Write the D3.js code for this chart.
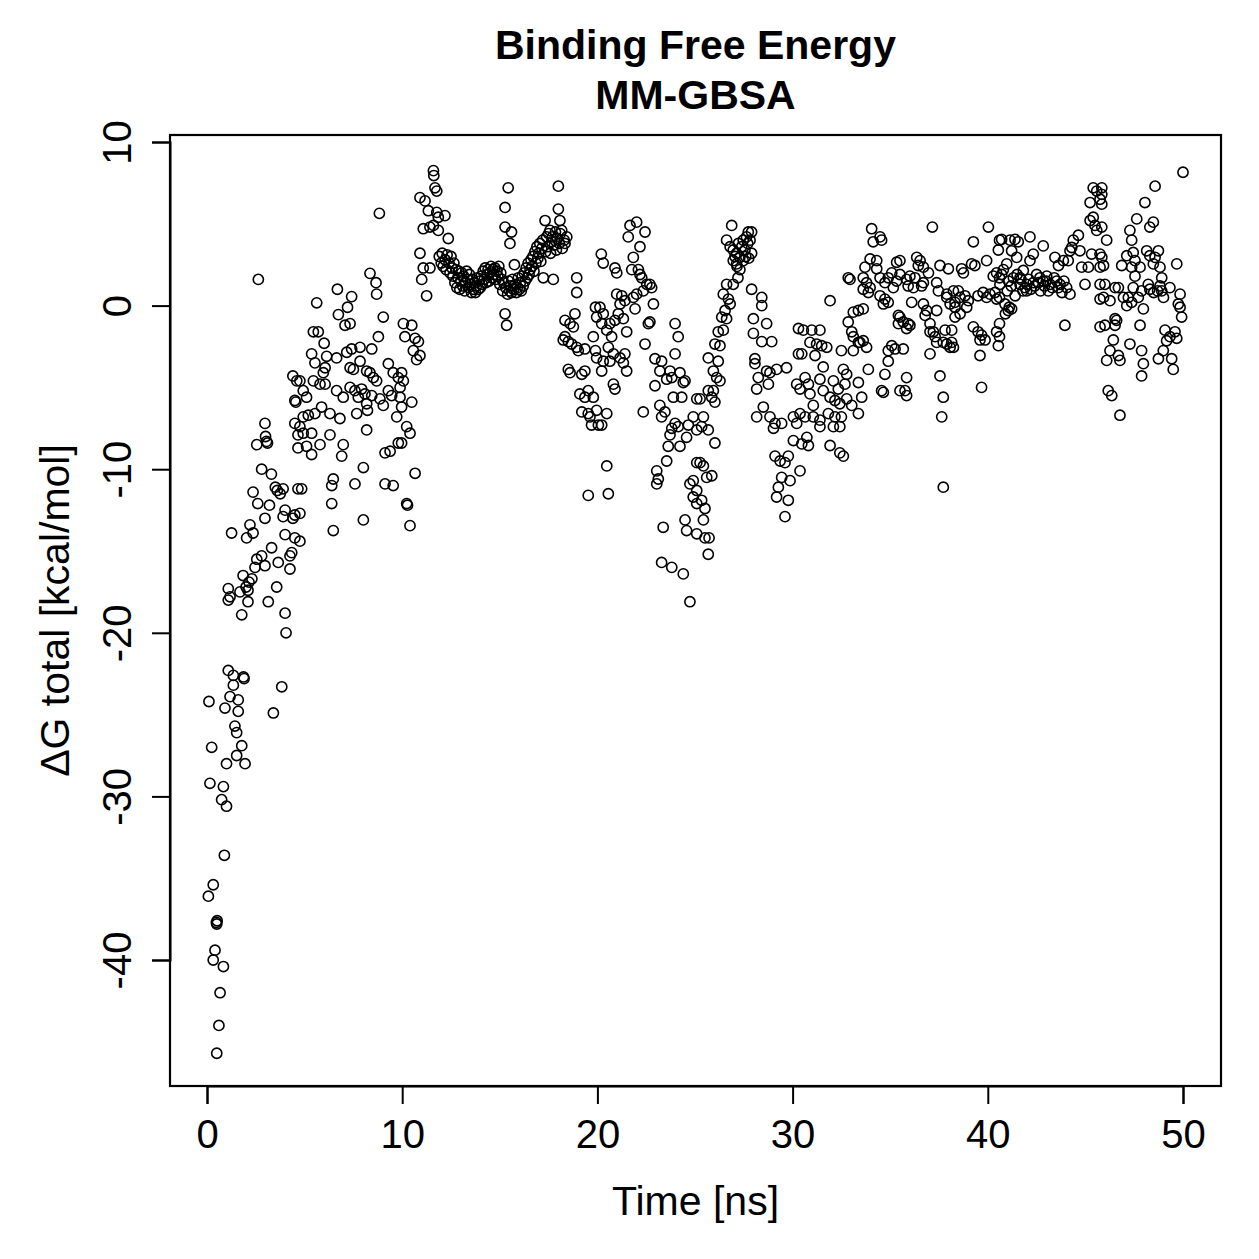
<!DOCTYPE html>
<html>
<head>
<meta charset="utf-8">
<script src="https://cdn.jsdelivr.net/npm/d3@7"></script>
<style>
  body { margin: 0; background: #fff; }
  text { font-family: "Liberation Sans", Arial, sans-serif; fill: #000; }
</style>
</head>
<body>
<div id="vis"></div>
<script>
const FRAME_WIDTH = 1259;
const FRAME_HEIGHT = 1259;
const BOX = {left: 170, right: 1221, top: 135, bottom: 1086};

const TITLE_LINES = ["Binding Free Energy", "MM-GBSA"];
const X_LABEL = "Time [ns]";
const Y_LABEL = "\u0394G total [kcal/mol]";
const X_TICKS = [0, 10, 20, 30, 40, 50];
const Y_TICKS = [10, 0, -10, -20, -30, -40];

// [time ns, dG kcal/mol], window by window
const start0to5 = [
  [0.07,-36.1],[0.1,-24.2],[0.15,-29.2],[0.24,-27.0],[0.32,-35.4],[0.32,-40.0],[0.41,-39.4],
  [0.48,-37.7],[0.5,-37.8],[0.52,-37.6],[0.5,-45.7],[0.61,-44.0],[0.67,-42.0],[0.75,-30.2],
  [0.84,-40.4],[0.84,-29.4],[0.89,-33.6],[0.92,-24.6],[1.0,-28.0],[1.0,-30.6],[1.09,-22.3],
  [1.09,-17.3],[1.09,-18.0],[1.18,-17.8],[1.18,-23.9],[1.26,-13.9],[1.35,-22.6],[1.35,-23.2],
  [1.43,-25.7],[1.52,-26.1],[1.52,-27.5],[1.6,-24.1],[1.6,-24.8],[1.69,-17.5],[1.78,-26.9],
  [1.78,-18.9],[1.87,-22.7],[1.9,-22.8],[1.95,-28.0],[2.03,-14.2],[2.1,-18.1],[2.2,-13.4],
  [1.85,-16.5],[2.0,-17.2],[2.15,-16.9],[2.3,-16.7],[2.1,-17.4],[2.36,-11.4],[2.36,-13.9],
  [2.46,-16.0],[2.55,-15.5],[2.55,-8.5],[2.63,1.6],[2.8,-15.3],[2.8,-10.0],[2.97,-7.2],
  [2.97,-13.0],[2.97,-15.9],[3.0,-8.0],[3.05,-8.3],[3.1,-8.4],[3.14,-18.1],[3.2,-12.2],
  [2.6,-12.1],[3.3,-10.3],[3.31,-14.8],[3.4,-24.9],[3.5,-11.1],[3.57,-17.2],[3.65,-15.7],
  [3.6,-11.3],[3.75,-11.5],[3.83,-23.3],[3.9,-12.9],[3.9,-11.2],[4.0,-14.0],[4.0,-12.5],
  [4.0,-18.8],[4.05,-20.0],[4.25,-15.3],[4.25,-16.1],[4.34,-15.1],[4.4,-4.3],[4.4,-13.0],
  [4.5,-5.8],[4.55,-5.9],[4.5,-7.2],[4.5,-14.2],[4.5,-12.8],[4.6,-4.6],[4.66,-7.9],[4.66,-8.7],
  [4.66,-11.2],[4.76,-4.6],[4.76,-7.4],[4.76,-14.4],[4.76,-12.7],[4.85,-11.2],[4.93,-5.2],
  [4.93,-6.8],[4.93,-7.8]
];

const rise5to11 = [
  [5.1,-5.6],[5.1,-8.6],[5.19,-6.7],[5.36,-7.8],[5.36,-9.1],[5.36,-2.95],[5.45,-1.6],[5.45,-4.6],
  [5.53,-3.5],[5.53,-6.6],[5.62,0.17],[5.7,-1.6],[5.79,-4.8],[5.79,-8.5],[5.87,-6.2],[5.96,-4.1],
  [6.0,-2.3],[6.05,-3.8],[6.05,-4.8],[6.13,-3.1],[6.3,-6.6],[6.3,-7.9],[6.39,-11.0],[6.39,-12.1],
  [6.47,-10.6],[6.47,-13.75],[6.64,-3.2],[6.64,-5.2],[6.68,1.0],[6.73,-0.55],[6.81,-6.9],
  [6.9,-9.2],[6.98,-5.6],[6.98,-8.5],[7.07,-1.2],[7.16,-2.85],[7.2,-0.1],[7.33,-1.1],[7.33,-3.8],
  [7.33,-5.0],[7.41,0.55],[7.41,-2.65],[7.5,-3.9],[7.58,-5.2],[7.58,-10.9],[7.67,-6.6],
  [7.75,-5.6],[7.84,-2.55],[7.84,-3.4],[7.92,-5.1],[8.01,-9.9],[8.01,-13.1],[8.09,-5.4],
  [8.18,-4.0],[8.18,-6.0],[8.22,-6.4],[8.18,-7.6],[8.35,1.97],[8.35,-4.1],[8.44,-2.65],
  [8.44,-5.5],[8.52,-4.4],[8.66,1.4],[8.69,0.7],[8.69,-4.6],[8.78,-1.9],[8.83,5.64],[8.86,-5.7],
  [9.03,-0.7],[9.03,-6.1],[9.12,-9.0],[9.12,-10.9],[9.29,-3.55],[9.29,-5.2],[9.38,-8.9],
  [9.46,-5.5],[9.54,-4.1],[9.54,-11.0],[9.72,-6.8],[9.8,-4.4],[9.8,-8.4],[9.89,-5.0],[9.89,-5.6],
  [9.97,-4.1],[9.97,-6.2],[9.97,-8.4],[10.06,-1.1],[10.06,-4.6],[10.14,-1.9],[10.23,-7.4],
  [10.23,-12.1],[10.27,-12.2],[10.4,-7.8],[10.4,-13.45],[10.49,-1.2],[10.49,-5.9],[10.57,-2.75],
  [10.66,-2.0],[10.66,-10.25],[10.74,-3.3],[10.83,-2.2],[10.91,-3.05]
];

const plateau11to18 = [
  [10.91,3.2],[10.91,6.6],[11.0,1.6],[11.08,2.3],[11.08,4.7],[11.17,6.4],[11.25,0.6],[11.34,5.8],
  [11.42,2.3],[11.42,4.8],[11.6,4.9],[11.6,8.25],[11.62,7.95],[11.68,7.2],[11.77,7.0],[11.77,5.7],
  [11.85,5.4],[11.85,4.6],[12.19,5.5],[12.36,4.1],[11.9,3.0],[12.0,2.6],[12.05,3.2],[12.1,2.4],
  [12.2,2.8],[12.25,2.2],[12.3,3.1],[12.4,2.6],[12.45,2.0],[12.5,3.0],[12.55,2.3],
  [12.6,1.8],[12.65,2.6],[12.7,1.4],[12.75,2.2],[12.8,1.1],[12.85,1.7],[12.9,2.1],[12.95,1.0],
  [13.0,1.5],[13.05,2.0],[13.1,1.2],[13.15,1.8],[13.2,0.9],[13.25,1.4],[13.3,2.1],[13.35,1.6],
  [13.4,1.1],[13.45,1.9],[13.5,1.3],[13.55,0.8],[13.6,1.6],[13.65,1.0],[13.7,1.4],[13.75,0.8],
  [13.8,1.2],[13.85,1.7],[13.9,1.0],[13.95,1.5],[14.0,1.1],[14.05,1.8],[14.1,1.3],[14.15,2.1],
  [14.2,1.6],[14.25,2.3],[14.3,1.4],[14.35,1.9],[14.4,2.2],[14.45,1.5],[14.5,2.0],[14.55,2.4],
  [14.6,1.7],[14.65,2.2],[14.7,1.9],[14.75,2.3],[14.8,1.6],[14.85,2.1],[14.9,1.8],[14.95,2.4],
  [15.0,1.3],[15.05,2.0],[15.1,1.6],[15.15,0.9],[15.2,1.4],[15.27,6.0],[15.27,4.8],[15.27,-0.5],
  [15.35,-1.2],[15.43,7.2],[15.52,3.8],[15.6,4.5],[15.3,1.1],[15.4,0.7],[15.45,1.5],[15.5,0.9],
  [15.55,1.2],[15.6,0.8],[15.65,1.6],[15.7,1.0],[15.75,2.5],[15.8,1.3],[15.85,0.8],[15.9,1.1],
  [15.95,1.7],[16.0,1.0],[16.05,1.4],[16.1,0.9],[16.15,1.8],[16.2,1.2],[16.25,2.0],[16.3,1.5],
  [16.35,2.3],[16.4,1.7],[16.45,2.6],[16.5,1.9],[16.55,2.2],[16.6,2.8],[16.65,2.4],[16.7,3.0],
  [16.75,2.1],[16.8,3.3],[16.85,2.6],[16.9,3.6],[16.95,2.9],[17.0,3.2],[17.05,3.8],[17.1,2.7],
  [17.15,3.5],[17.2,4.0],[17.23,1.7],[17.32,5.2],[17.35,3.3],[17.4,4.2],[17.45,3.6],[17.5,4.4],
  [17.57,4.6],[17.6,3.2],[17.65,3.9],[17.7,4.2],[17.74,1.6],[17.8,3.7],[17.85,4.5],[17.9,3.4],
  [17.95,4.1],[18.0,7.3],[18.0,5.9],[18.05,3.8],[18.08,5.2],[18.1,4.4],[18.17,4.6],[18.2,3.5],
  [18.3,4.0],[18.34,3.8],[18.43,4.2]
];

const dip18to30 = [
  [18.25,-2.1],[18.34,-0.9],[18.34,-1.9],[18.51,-2.2],[18.51,-3.9],[18.6,-1.1],[18.6,-4.1],
  [18.68,-2.35],[18.77,-1.3],[18.85,-0.5],[18.94,1.7],[18.94,0.8],[18.94,-2.55],[19.02,-2.75],
  [19.1,-5.4],[19.2,-4.2],[19.2,-6.5],[19.36,-2.65],[19.36,-4.0],[19.36,-5.6],[19.53,-5.2],
  [19.53,-6.6],[19.53,-11.6],[19.62,-6.8],[19.7,-7.3],[19.79,-5.6],[19.79,-1.9],[19.9,-0.1],
  [19.9,-2.75],[19.96,-0.7],[19.96,-3.2],[19.96,-6.4],[20.05,-7.3],[20.2,3.15],[20.13,-0.1],
  [20.22,-1.1],[20.22,-4.0],[20.22,-7.3],[20.3,2.6],[20.3,-0.5],[20.3,-3.4],[20.48,-1.5],
  [20.48,-6.6],[20.48,-9.8],[20.56,-2.55],[20.56,-11.5],[20.64,-1.1],[20.64,-3.4],[20.73,-1.9],
  [20.82,-2.95],[20.82,-4.8],[20.9,-0.9],[20.9,-5.1],[20.9,2.3],[20.99,2.0],[20.99,0.7],
  [21.07,-0.5],[21.16,0.1],[21.16,-3.2],[21.25,0.6],[21.33,-0.8],[21.33,-3.5],[21.41,0.3],
  [21.41,-2.95],[21.5,-1.6],[21.5,-4.0],[21.58,4.2],[21.67,4.9],[21.76,2.2],[21.84,2.95],
  [21.84,0.5],[21.93,-0.2],[22.01,5.1],[22.01,0.7],[22.1,2.2],[22.18,3.6],[22.18,1.9],[22.27,1.7],
  [22.35,0.9],[22.35,-6.5],[22.44,4.5],[22.44,-2.35],[22.53,1.3],[22.61,-1.1],[22.69,1.3],
  [22.69,-1.0],[22.78,1.1],[22.87,0.1],[22.95,-3.25],[22.95,-4.9],[23.04,-10.1],[23.04,-10.9],
  [23.12,-10.6],[23.2,-4.0],[23.2,-6.1],[23.29,-3.4],[23.29,-6.8],[23.29,-15.7],[23.37,-13.55],
  [23.46,-6.5],[23.55,-4.5],[23.55,-9.5],[23.63,-8.6],[23.72,-4.0],[23.72,-7.9],[23.81,-4.4],
  [23.81,-7.5],[23.81,-16.0],[23.89,-5.6],[23.98,-1.1],[23.98,-2.95],[23.98,-7.2],[24.14,-1.9],
  [24.14,-7.4],[24.23,-4.1],[24.23,-8.6],[24.32,-5.6],[24.4,-4.7],[24.4,-16.4],[24.49,-4.6],
  [24.49,-13.1],[24.57,-8.05],[24.57,-13.75],[24.66,-7.3],[24.74,-10.9],[24.74,-18.1],
  [24.91,-6.8],[24.91,-10.7],[24.91,-11.7],[25.09,-5.7],[25.09,-7.6],[25.09,-9.6],[25.09,-11.3],
  [25.09,-12.1],[25.09,-13.95],
  [25.26,-5.7],[25.26,-9.6],[25.34,-7.4],[25.34,-11.9],[25.43,-6.8],[25.43,-9.8],[25.43,-13.1],
  [25.51,-12.4],[25.51,-14.2],[25.6,-10.5],[25.68,-3.2],[25.68,-5.2],[25.68,-7.6],[25.72,-14.2],
  [25.68,-15.2],[25.86,-5.6],[25.86,-10.4],[25.94,-4.0],[25.94,-5.2],[26.02,-2.35],[26.02,-5.9],
  [26.02,-8.4],[26.11,-4.4],[26.19,-1.6],[26.19,-3.4],[26.28,-2.45],[26.28,-4.6],[26.37,-0.7],
  [26.45,-1.5],[26.45,0.7],[26.54,-0.3],[26.62,-0.8],[26.62,1.3],[26.62,4.0],[26.71,0.4],
  [26.8,0.1],[26.8,3.6],[26.88,4.9],[26.96,1.3],[26.96,3.4],[26.96,2.75],[27.05,3.0],[27.13,3.2],
  [27.13,2.55],[27.15,2.4],[27.2,1.7],[27.22,3.8],[27.3,2.95],[27.3,2.2],[27.39,3.6],[27.47,2.75],
  [27.47,4.0],[27.56,3.4],[27.6,3.0],[27.64,4.2],[27.7,3.8],[27.73,4.5],[27.75,2.9],[27.82,4.0],
  [27.9,4.5],[27.9,3.2],[27.9,1.0],[27.99,-0.8],[27.99,-1.7],[28.07,-3.25],[28.07,-3.55],
  [28.16,-5.1],[28.16,-6.8],[28.24,-4.4],[28.42,0.5],[28.42,0.0],[28.42,-2.2],[28.5,-6.2],
  [28.67,-1.1],[28.67,-4.0],[28.76,-4.8],[28.84,-4.1],[28.84,-6.8],[28.93,-2.2],[29.02,-7.5],
  [29.1,-7.2],[29.1,-9.2],[29.18,-3.9],[29.18,-11.7],[29.27,-11.1],[29.36,-9.5],[29.44,-7.2],
  [29.44,-10.5],[29.61,-9.6],[29.61,-12.9],[29.69,-3.8],[29.78,-9.2],[29.78,-11.9],[29.87,-10.7],
  [30.04,-6.8],[30.04,-8.25],[30.21,-7.2],[30.21,-4.8],[30.3,-1.4],[30.3,-2.95]
];

const recover30to40 = [
  [30.38,-10.1],[30.38,-5.1],[30.38,-6.6],[30.47,-2.95],[30.47,-8.45],[30.55,-1.5],[30.64,-4.4],
  [30.64,-6.8],[30.73,-8.05],[30.81,-4.8],[30.81,-8.55],[30.89,-2.25],[30.89,-5.4],[30.98,-1.5],
  [31.06,-6.1],[31.06,-6.8],[31.15,-3.05],[31.23,-2.35],[31.4,-1.5],[31.4,-4.5],[31.4,-7.0],
  [31.4,-7.4],[31.49,-2.45],[31.57,-3.75],[31.57,-5.2],[31.75,-2.55],[31.83,-6.6],[31.92,0.3],
  [31.92,-5.6],[31.92,-8.55],[32.09,-4.6],[32.09,-7.4],[32.17,-5.8],[32.17,-6.8],[32.34,-5.1],
  [32.42,-6.0],[32.42,-7.4],[32.42,-9.0],[32.5,-2.75],[32.5,-6.8],[32.6,-3.9],[32.6,-9.2],
  [32.68,-4.8],[32.77,-4.2],[32.77,-5.7],[32.85,1.7],[32.85,-1.0],[32.94,1.6],[33.03,-1.6],
  [33.03,-6.1],[33.11,-0.4],[33.11,-1.9],[33.11,-2.75],[33.37,-0.3],[33.37,-2.25],[33.37,-4.7],
  [33.37,-6.6],[33.45,-2.25],[33.54,-5.6],[33.62,1.7],[33.62,1.0],[33.62,-0.2],[33.62,-2.15],
  [33.71,2.35],[33.79,1.4],[33.79,-2.55],[33.88,0.8],[33.88,-3.9],[33.97,2.85],[33.97,1.1],
  [34.05,4.7],[34.13,3.9],[34.31,2.75],[34.31,2.25],[34.48,4.2],[34.48,1.7],[34.48,0.6],
  [34.56,4.0],[34.56,-5.2],[34.65,0.1],[34.65,-5.3],[34.73,1.4],[34.73,0.4],[34.73,-4.2],
  [34.9,1.7],[34.9,0.2],[34.9,-2.75],[34.9,-3.4],[35.08,2.0],[35.08,-2.45],[35.16,1.1],
  [35.25,-2.65],[35.33,2.65],[35.33,1.5],[35.42,-0.6],[35.42,-1.1],[35.5,-5.2],[35.5,2.75],
  [35.5,1.9],[35.5,-0.7],[35.67,-1.0],[35.67,-2.65],[35.76,-5.2],[35.84,1.6],[35.84,-1.4],
  [35.84,-4.4],[35.84,-5.5],[35.92,1.2],[35.92,-1.1],[36.01,1.8],[36.01,-1.2],[36.1,0.2],
  [36.19,1.1],[36.27,1.7],[36.36,2.95],[36.44,2.45],[36.53,2.75],[36.61,1.2],[36.7,2.35],
  [36.7,1.4],[36.7,0.1],[36.79,-0.6],[36.87,-0.3],[36.96,2.0],[37.04,-1.1],[37.04,-1.6],
  [37.04,-2.95],[37.16,4.8],[37.21,-1.6],[37.3,-1.9],[37.38,1.4],[37.38,-0.3],[37.38,-2.25],
  [37.47,0.9],[37.55,2.45],[37.55,-4.3],[37.64,-6.8],[37.72,-2.25],[37.72,-5.6],[37.72,-11.1],
  [37.81,-1.5],[37.9,0.7],[37.9,0.5],[37.9,-2.35],[37.98,2.25],[38.07,0.1],[38.07,-2.55],
  [38.15,-2.25],[38.15,-1.5],[38.24,0.9],[38.24,-2.55],[38.32,-0.1],[38.32,-0.7],[38.32,0.2],
  [38.49,0.9],[38.58,0.5],[38.58,-0.5],[38.66,2.25],[38.75,2.0],[38.83,0.6],[38.92,-0.1],
  [39.0,0.3],[39.17,2.55],[39.26,3.9],[39.26,-1.3],[39.34,2.45],[39.5,0.6],[39.5,-1.6],
  [39.6,-2.1],[39.6,-3.05],[39.68,-1.8],[39.68,-5.0],[39.76,0.8],[39.86,-2.1],[39.94,2.75],
  [39.94,0.5],[40.03,4.8],[40.11,0.7],[40.28,1.8],[40.37,0.8],[40.45,2.0],[40.45,0.4],
  [40.45,-1.6],[40.54,3.4],[40.54,-2.45],[40.6,4.0],[40.6,1.7]
];

const late40to50 = [
  [40.62,1.3],[40.6,0.5],[40.6,-1.1],[40.6,-1.9],[40.71,4.05],[40.71,1.9],[40.8,2.2],[40.88,0.1],
  [40.9,-0.5],[40.97,2.55],[41.0,0.9],[41.05,-0.3],[41.06,1.5],[41.1,-0.1],[41.14,4.0],[41.2,1.2],
  [41.22,3.35],[41.22,-0.2],[41.31,1.7],[41.39,4.05],[41.4,0.6],[41.48,2.95],[41.5,1.9],
  [41.56,3.9],[41.65,1.7],[41.65,1.3],[41.7,1.6],[41.8,0.9],[41.82,2.15],[41.91,1.1],[41.99,0.9],
  [42.0,1.3],[42.1,1.6],[42.16,4.2],[42.16,2.75],[42.2,1.0],[42.33,3.15],[42.33,1.4],[42.4,1.2],
  [42.5,1.9],[42.6,1.4],[42.67,1.7],[42.7,0.9],[42.84,3.65],[42.84,1.5],[42.9,1.2],[43.0,1.5],
  [43.02,1.8],[43.1,0.9],[43.19,1.3],[43.3,1.1],[43.4,1.7],[43.44,2.95],[43.53,1.5],[43.62,1.1],
  [43.62,2.45],[43.7,1.3],[43.8,0.8],[43.87,2.75],[43.9,1.5],[43.95,-1.2],[44.04,1.1],[44.12,2.75],
  [44.21,0.7],[44.21,3.35],[44.3,3.55],[44.38,4.0],[44.64,4.3],[44.72,3.35],[44.81,2.35],
  [44.98,1.3],[45.15,2.35],[45.24,5.2],[45.24,6.3],[45.32,3.15],[45.4,5.4],[45.4,7.2],[45.49,4.9],
  [45.58,4.6],[45.58,7.0],[45.75,6.5],[45.75,3.15],[45.75,2.35],[45.75,1.3],[45.75,0.4],
  [45.75,-1.3],[45.84,7.2],[45.84,6.8],[45.84,6.2],[45.84,4.8],[45.84,2.95],[45.93,2.45],
  [45.93,0.5],[46.0,1.3],[46.0,-1.2],[46.09,4.0],[46.09,-3.35],[46.17,-5.2],[46.26,0.3],
  [46.26,-2.75],[46.35,-5.5],[46.43,-2.1],[46.52,1.1],[46.52,-1.2],[46.52,-0.8],[46.6,-0.9],
  [46.69,-3.05],[46.69,1.1],[46.77,-3.35],[46.77,-6.7],[46.86,2.45],[46.95,0.5],[47.12,3.05],
  [47.12,0.0],[47.2,0.5],[47.28,4.6],[47.28,-2.35],[47.37,4.0],[47.37,2.35],[47.37,0.2],
  [47.45,3.25],[47.45,1.1],[47.54,2.75],[47.54,1.8],[47.63,5.3],[47.71,0.5],[47.8,2.35],
  [47.8,-1.2],[47.88,0.9],[47.88,-2.75],[47.88,-4.3],[47.97,-0.2],[47.97,-3.55],[48.05,6.3],
  [48.14,3.35],[48.22,1.3],[48.3,4.8],[48.3,3.05],[48.3,1.0],[48.48,5.1],[48.48,2.55],[48.5,0.8],
  [48.57,7.3],[48.57,2.95],[48.7,0.9],[48.74,3.35],[48.74,-3.25],[48.82,2.35],[48.82,1.2],
  [48.91,1.7],[48.91,0.9],[48.99,-2.75],[49.0,0.5],[49.08,-1.5],[49.16,-2.15],[49.33,1.1],
  [49.33,-1.9],[49.42,-3.25],[49.5,-3.9],[49.59,-1.6],[49.68,2.55],[49.68,-2.0],[49.76,0.1],
  [49.85,0.7],[49.85,-0.1],[49.93,-0.7],[50.0,8.15]
];

const POINTS = [].concat(start0to5, rise5to11, plateau11to18, dip18to30, recover30to40, late40to50);

const FONT = "'Liberation Sans', Arial, sans-serif";

const SVG = d3.select("#vis")
    .append("svg")
    .attr("width", FRAME_WIDTH)
    .attr("height", FRAME_HEIGHT);

SVG.append("rect")
    .attr("width", FRAME_WIDTH)
    .attr("height", FRAME_HEIGHT)
    .attr("fill", "#fff");

const X_SCALE = d3.scaleLinear().domain([0, 50]).range([207, 1183]);
const Y_SCALE = d3.scaleLinear().domain([-40, 10]).range([960, 142]);

// points
SVG.append("g")
    .selectAll("circle")
    .data(POINTS)
    .enter()
    .append("circle")
        .attr("cx", d => X_SCALE(d[0]))
        .attr("cy", d => Y_SCALE(d[1]))
        .attr("r", 5.1)
        .attr("fill", "none")
        .attr("stroke", "#000")
        .attr("stroke-width", 1.6);

// box
SVG.append("rect")
    .attr("x", BOX.left)
    .attr("y", BOX.top)
    .attr("width", BOX.right - BOX.left)
    .attr("height", BOX.bottom - BOX.top)
    .attr("fill", "none")
    .attr("stroke", "#000")
    .attr("stroke-width", 2.2);

// plain hyphen minus like R
const plain = d => String(d);

// x axis
const xAxis = SVG.append("g")
    .attr("transform", "translate(0," + BOX.bottom + ")")
    .call(d3.axisBottom(X_SCALE).tickValues(X_TICKS).tickFormat(plain)
        .tickSizeOuter(0).tickSize(18).tickPadding(16));
xAxis.select(".domain").attr("stroke-width", 2);
xAxis.selectAll(".tick line").attr("stroke-width", 2);
xAxis.selectAll("text")
    .attr("font-size", 40)
    .attr("font-family", FONT);

// y axis, labels parallel to the axis like R
const yAxis = SVG.append("g")
    .attr("transform", "translate(" + BOX.left + ",0)")
    .call(d3.axisLeft(Y_SCALE).tickValues(Y_TICKS).tickFormat(plain)
        .tickSizeOuter(0).tickSize(18));
yAxis.select(".domain").attr("stroke-width", 2);
yAxis.selectAll(".tick line").attr("stroke-width", 2);
yAxis.selectAll("text")
    .attr("x", null)
    .attr("dy", null)
    .attr("text-anchor", "middle")
    .attr("transform", "translate(-39,0) rotate(-90)")
    .attr("font-size", 40)
    .attr("font-family", FONT);

// titles
SVG.selectAll(".title")
    .data(TITLE_LINES)
    .enter()
    .append("text")
        .attr("class", "title")
        .attr("x", (BOX.left + BOX.right) / 2)
        .attr("y", (d, i) => 59 + i * 50)
        .attr("text-anchor", "middle")
        .attr("font-size", 41)
        .attr("font-weight", "bold")
        .text(d => d);

SVG.append("text")
    .attr("x", (BOX.left + BOX.right) / 2)
    .attr("y", 1215)
    .attr("text-anchor", "middle")
    .attr("font-size", 41)
    .text(X_LABEL);

SVG.append("text")
    .attr("transform", "translate(69," + (BOX.top + BOX.bottom) / 2 + ") rotate(-90)")
    .attr("text-anchor", "middle")
    .attr("font-size", 41)
    .text(Y_LABEL);
</script>
</body>
</html>
